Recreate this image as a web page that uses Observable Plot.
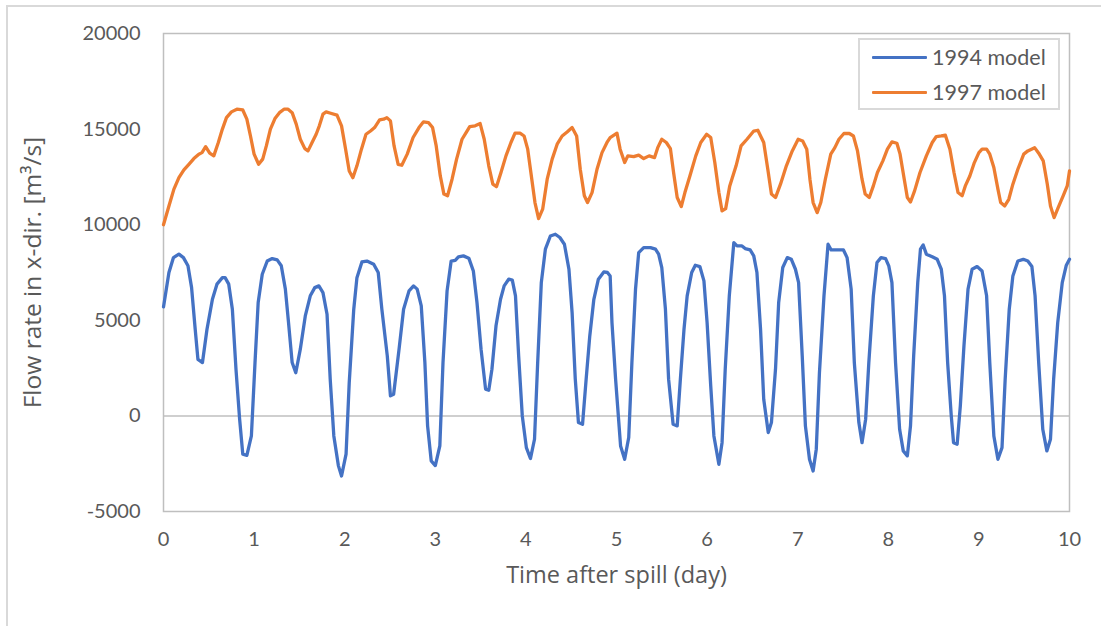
<!DOCTYPE html>
<html>
<head>
<meta charset="utf-8">
<script src="https://cdn.jsdelivr.net/npm/d3@7"></script>
<script src="https://cdn.jsdelivr.net/npm/@observablehq/plot@0.6"></script>
<style>
  html, body { margin: 0; padding: 0; background: #fff; }
  body { width: 1101px; height: 626px; position: relative; overflow: hidden; font-family: Lato, "Open Sans", sans-serif; }
  #outer { position: absolute; left: 6px; top: 5px; width: 1100px; height: 630px; border-left: 2px solid #d9d9d9; border-top: 2px solid #d9d9d9; }
  #chart { position: absolute; left: 0; top: 0; }
  #legend { position: absolute; left: 858px; top: 38px; width: 198px; height: 68px; border: 2px solid #d9d9d9; background: #fff; color: #595959; font-size: 21.5px; font-family: Lato, sans-serif; }
  .item { position: absolute; left: 12px; height: 26px; display: flex; align-items: center; }
  .swatch { width: 55px; height: 3px; margin-right: 5px; border-radius: 1px; }
</style>
</head>
<body>
<div id="outer"></div>
<div id="chart"></div>
<div id="legend">
  <div class="item" style="top:4px"><div class="swatch" style="background:#4472c4"></div><span>1994 model</span></div>
  <div class="item" style="top:39px"><div class="swatch" style="background:#ed7d31"></div><span>1997 model</span></div>
</div>
<script>
const seriesNames = ["1994 model", "1997 model"];
const seriesColors = ["#4472c4", "#ed7d31"];
const xTicks = [0,1,2,3,4,5,6,7,8,9,10];
const yTicks = [-5000,0,5000,10000,15000,20000];

const blueT = [0,0.06,0.11,0.17,0.22,0.27,0.31,0.35,0.38,0.43,0.48,0.54,0.59,0.65,0.68,0.72,0.76,0.80,0.84,0.875,0.92,0.97,1.01,1.045,1.09,1.145,1.20,1.255,1.30,1.345,1.38,1.42,1.46,1.51,1.565,1.62,1.67,1.715,1.76,1.805,1.84,1.88,1.93,1.965,2.015,2.05,2.10,2.135,2.19,2.245,2.32,2.37,2.41,2.47,2.505,2.54,2.60,2.65,2.71,2.76,2.80,2.845,2.885,2.915,2.955,3.00,3.05,3.085,3.13,3.175,3.22,3.255,3.31,3.37,3.42,3.46,3.505,3.555,3.59,3.625,3.67,3.72,3.76,3.81,3.85,3.885,3.92,3.96,4.005,4.05,4.095,4.13,4.17,4.215,4.27,4.325,4.375,4.425,4.475,4.51,4.545,4.58,4.625,4.665,4.705,4.75,4.80,4.86,4.90,4.93,4.95,4.99,5.045,5.09,5.135,5.17,5.21,5.245,5.30,5.375,5.43,5.465,5.50,5.54,5.575,5.625,5.67,5.705,5.745,5.78,5.83,5.87,5.92,5.965,6.00,6.04,6.075,6.13,6.165,6.20,6.245,6.295,6.33,6.385,6.42,6.475,6.515,6.55,6.59,6.625,6.675,6.71,6.755,6.79,6.835,6.885,6.93,6.975,7.01,7.05,7.085,7.13,7.17,7.205,7.24,7.29,7.335,7.37,7.45,7.505,7.545,7.59,7.625,7.675,7.71,7.75,7.785,7.835,7.875,7.92,7.97,8.005,8.04,8.08,8.125,8.165,8.21,8.245,8.28,8.325,8.355,8.385,8.42,8.485,8.54,8.585,8.62,8.655,8.695,8.72,8.76,8.795,8.835,8.88,8.925,8.98,9.035,9.085,9.12,9.165,9.21,9.255,9.29,9.335,9.375,9.43,9.49,9.54,9.585,9.62,9.66,9.705,9.75,9.79,9.825,9.87,9.92,9.965,10.0];
const blueV = [5700,7500,8280,8460,8280,7850,6710,4530,2960,2790,4530,6100,6890,7230,7230,6890,5580,2440,-160,-2000,-2060,-1050,2790,5930,7410,8100,8230,8160,7850,6630,4880,2790,2260,3490,5230,6280,6710,6800,6450,5320,1920,-1050,-2600,-3140,-2000,1740,5580,7230,8050,8100,7930,7500,5580,3140,1050,1130,3490,5580,6540,6800,6630,5750,2790,-520,-2350,-2600,-1570,2790,6540,8100,8140,8320,8370,8250,7580,5930,3490,1400,1340,2440,4710,6100,6800,7150,7100,6280,3140,0,-1660,-2230,-1220,2790,6970,8720,9410,9500,9330,8980,7670,5400,1920,-350,-440,1920,4180,6100,7150,7530,7500,7320,4880,1920,-1570,-2270,-1130,2790,6630,8540,8800,8800,8720,8460,7760,5580,1920,-440,-520,1920,4530,6280,7500,7880,7810,7060,4880,1570,-1050,-2530,-1400,2440,6280,9060,8890,8890,8750,8680,8370,7500,4530,870,-870,-350,2440,5930,7760,8280,8190,7670,6970,3140,-520,-2270,-2880,-1740,2260,6280,8980,8680,8680,8680,8280,6630,2790,-350,-1400,-170,2790,6280,8020,8280,8230,7850,6970,2790,-700,-1830,-2090,-520,3140,6970,8720,8940,8460,8320,8190,7670,6280,2790,0,-1400,-1480,520,3660,6630,7670,7810,7580,6280,2790,-1050,-2270,-1660,1920,5580,7320,8100,8190,8100,7810,6280,2790,-700,-1830,-1220,1920,4880,6970,7880,8190];

const orangeT = [0,0.06,0.115,0.17,0.225,0.28,0.335,0.39,0.425,0.465,0.51,0.555,0.605,0.65,0.695,0.75,0.81,0.875,0.92,0.96,1.0,1.05,1.095,1.135,1.18,1.23,1.28,1.33,1.375,1.42,1.465,1.51,1.56,1.595,1.64,1.685,1.72,1.76,1.795,1.845,1.915,1.965,2.01,2.05,2.09,2.135,2.185,2.235,2.285,2.33,2.385,2.43,2.465,2.505,2.545,2.59,2.63,2.69,2.755,2.82,2.87,2.925,2.97,3.01,3.055,3.095,3.135,3.185,3.235,3.295,3.34,3.38,3.44,3.495,3.54,3.59,3.635,3.675,3.725,3.78,3.835,3.88,3.935,3.98,4.02,4.065,4.10,4.14,4.185,4.235,4.29,4.345,4.40,4.455,4.51,4.56,4.60,4.645,4.68,4.73,4.785,4.84,4.895,4.93,5.005,5.04,5.09,5.125,5.19,5.245,5.30,5.36,5.42,5.455,5.50,5.55,5.595,5.63,5.67,5.715,5.755,5.81,5.875,5.93,5.995,6.04,6.085,6.13,6.165,6.205,6.25,6.32,6.375,6.44,6.515,6.56,6.625,6.67,6.71,6.755,6.81,6.875,6.94,7.005,7.055,7.10,7.135,7.17,7.215,7.255,7.305,7.365,7.41,7.455,7.51,7.57,7.615,7.66,7.71,7.745,7.79,7.835,7.88,7.94,7.99,8.04,8.095,8.13,8.17,8.21,8.245,8.29,8.35,8.42,8.485,8.53,8.585,8.63,8.68,8.725,8.77,8.815,8.85,8.90,8.95,9.0,9.035,9.085,9.12,9.165,9.21,9.24,9.285,9.33,9.375,9.43,9.495,9.54,9.615,9.66,9.71,9.755,9.79,9.83,9.875,9.93,9.975,10.0];
const orangeV = [10000,10980,11860,12460,12870,13160,13460,13690,13770,14080,13740,13600,14300,15000,15600,15900,16040,16000,15520,14640,13690,13160,13430,14120,15000,15550,15860,16040,16040,15860,15260,14470,13980,13860,14300,14730,15170,15780,15900,15830,15730,15170,13950,12810,12460,13080,13950,14730,14900,15080,15480,15520,15600,15430,14120,13160,13110,13690,14560,15080,15380,15340,15080,14120,12550,11600,11510,12380,13430,14470,14820,15130,15170,15290,14470,13080,12120,11990,12730,13600,14300,14790,14790,14640,13950,12380,11160,10320,10810,12380,13430,14210,14640,14850,15080,14640,12900,11510,11160,11680,12900,13770,14300,14560,14790,13950,13250,13600,13560,13640,13460,13600,13510,14030,14470,14300,13980,12730,11420,10950,11680,12550,13600,14300,14730,14560,13250,11680,10720,10840,12030,13080,14120,14470,14900,14940,14300,12900,11600,11420,12120,13080,13860,14470,14380,13950,12380,11160,10630,11160,12380,13690,14030,14470,14770,14770,14640,13860,12380,11600,11420,12030,12730,13340,13950,14330,14260,13690,12550,11420,11190,11770,12730,13600,14300,14610,14640,14680,13950,12730,11680,11510,12030,12550,13250,13770,13950,13950,13690,12990,11860,11160,10980,11330,12120,12900,13690,13860,14030,13740,13340,12120,10980,10370,10890,11510,12030,12810];

const rows = [
  ...blueT.map((t, i) => ({series: seriesNames[0], t, v: blueV[i]})),
  ...orangeT.map((t, i) => ({series: seriesNames[1], t, v: orangeV[i]}))
];

const chart = Plot.plot({
  width: 1101,
  height: 626,
  marginLeft: 163,
  marginRight: 32,
  marginTop: 33,
  marginBottom: 115,
  style: {fontFamily: "Lato, 'Open Sans', sans-serif", fontSize: "20px", color: "#595959", background: "transparent", overflow: "visible"},
  x: {domain: [0, 10]},
  y: {domain: [-5000, 20000]},
  color: {domain: seriesNames, range: seriesColors},
  marks: [
    Plot.frame({stroke: "#bfbfbf", strokeWidth: 1.5}),
    Plot.ruleY([0], {stroke: "#bfbfbf", strokeWidth: 1.5}),
    Plot.axisX({ticks: xTicks, tickSize: 0, tickPadding: 20, tickFormat: d => String(d), label: "Time after spill (day)", labelAnchor: "center", labelArrow: "none", labelOffset: 71, fill: "#595959"}),
    Plot.axisY({ticks: yTicks, tickSize: 0, tickPadding: 23, tickFormat: d => String(d), label: "Flow rate in x-dir. [m³/s]", labelAnchor: "center", labelArrow: "none", labelOffset: 140, fill: "#595959"}),
    Plot.line(rows, {x: "t", y: "v", z: "series", stroke: "series", strokeWidth: 3.3, strokeLinejoin: "round", strokeLinecap: "round"})
  ]
});
d3.select(chart).selectAll('g[aria-label="x-axis label"] text').style("font-family", "'Open Sans', sans-serif").style("font-size", "23.5px");
d3.select(chart).selectAll('g[aria-label="y-axis label"] text').style("font-family", "'Open Sans', sans-serif").style("font-size", "24.5px");
document.getElementById("chart").appendChild(chart);
</script>
</body>
</html>
